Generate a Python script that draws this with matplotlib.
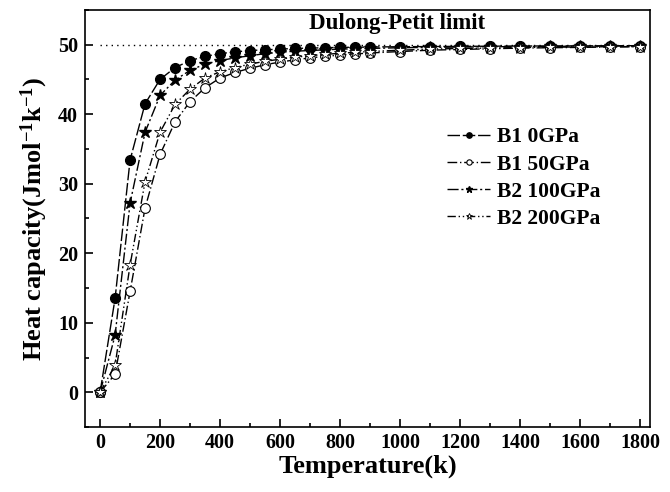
import matplotlib
matplotlib.use('Agg')
import matplotlib.pyplot as plt
from matplotlib.ticker import MultipleLocator

plt.rcParams['font.family'] = 'Liberation Serif'
plt.rcParams['font.weight'] = 'bold'
plt.rcParams['mathtext.fontset'] = 'custom'
plt.rcParams['mathtext.bf'] = 'Liberation Serif:bold'
plt.rcParams['mathtext.rm'] = 'Liberation Serif:bold'
plt.rcParams['mathtext.default'] = 'bf'

# temperatures (K)
T = [0, 50, 100, 150, 200, 250, 300, 350, 400, 450, 500, 550, 600, 650, 700, 750, 800, 850, 900,
     1000, 1100, 1200, 1300, 1400, 1500, 1600, 1700, 1800]

b1_0 = [0, 13.5, 33.4, 41.5, 45.0, 46.7, 47.7, 48.3, 48.7, 48.95, 49.15, 49.25, 49.35, 49.45, 49.5,
        49.55, 49.6, 49.62, 49.65, 49.7, 49.72, 49.75, 49.77, 49.8, 49.8, 49.82, 49.83, 49.85]
b1_50 = [0, 2.6, 14.5, 26.5, 34.2, 38.9, 41.8, 43.8, 45.2, 46.0, 46.6, 47.1, 47.5, 47.8, 48.1,
         48.3, 48.5, 48.65, 48.8, 49.0, 49.2, 49.3, 49.4, 49.5, 49.55, 49.6, 49.65, 49.7]
b2_100 = [0, 8.2, 27.2, 37.4, 42.7, 44.9, 46.3, 47.2, 47.7, 48.1, 48.4, 48.7, 48.9, 49.05, 49.15,
          49.25, 49.35, 49.4, 49.45, 49.55, 49.6, 49.65, 49.7, 49.72, 49.75, 49.77, 49.8, 49.8]
b2_200 = [0, 3.9, 18.3, 30.3, 37.4, 41.4, 43.6, 45.2, 46.1, 46.7, 47.2, 47.6, 47.9, 48.2, 48.4,
          48.6, 48.75, 48.9, 49.0, 49.2, 49.35, 49.45, 49.5, 49.58, 49.62, 49.66, 49.7, 49.72]

labels = ['B1 0GPa', 'B1 50GPa', 'B2 100GPa', 'B2 200GPa']

fig = plt.figure(figsize=(6.7, 4.92), dpi=100)
ax = fig.add_axes([0.127, 0.132, 0.843, 0.848])

ax.plot([0, 1800], [50, 50], linestyle=(0, (1, 3)), color='k', lw=1.0)

lw = 1.0
ax.plot(T, b1_0, color='k', lw=lw, linestyle=(0, (9, 2)), marker='o', ms=7,
        mfc='k', mec='k', label=labels[0])
ax.plot(T, b1_50, color='k', lw=lw, linestyle=(0, (7, 2, 1, 2)), marker='o', ms=7,
        mfc='white', mec='k', mew=0.8, label=labels[1])
ax.plot(T, b2_100, color='k', lw=lw, linestyle=(0, (8, 2, 1.5, 2)), marker='*', ms=9,
        mfc='k', mec='k', label=labels[2])
ax.plot(T, b2_200, color='k', lw=lw, linestyle=(0, (6, 2, 1, 2, 1, 2)), marker='*', ms=9,
        mfc='white', mec='k', mew=0.6, label=labels[3])

ax.text(990, 53.1, 'Dulong-Petit limit', ha='center', va='center', fontsize=16.5, fontweight='bold')

ax.set_xlim(-50, 1833)
ax.set_ylim(-5, 55)
ax.xaxis.set_major_locator(MultipleLocator(200))
ax.xaxis.set_minor_locator(MultipleLocator(100))
ax.yaxis.set_major_locator(MultipleLocator(10))
ax.yaxis.set_minor_locator(MultipleLocator(5))
ax.tick_params(which='both', direction='in', top=False, right=False, width=1.2)
ax.tick_params(which='major', length=6, labelsize=14.5)
ax.tick_params(axis='x', which='major', pad=4.5)
ax.tick_params(axis='y', which='major', pad=5)
ax.tick_params(which='minor', length=3)
for s in ax.spines.values():
    s.set_linewidth(1.2)

ax.set_xlabel('Temperature(k)', fontsize=19, fontweight='bold', labelpad=1)
ax.set_ylabel('Heat capacity(Jmol$^{-1}$k$^{-1}$)', fontsize=19, fontweight='bold', labelpad=6)

leg = ax.legend(loc='upper left', bbox_to_anchor=(0.607, 0.765), frameon=False, fontsize=15.5,
                markerscale=0.55, handlelength=2.0, handletextpad=0.3, labelspacing=0.33)

fig.savefig('out.png', dpi=100)
